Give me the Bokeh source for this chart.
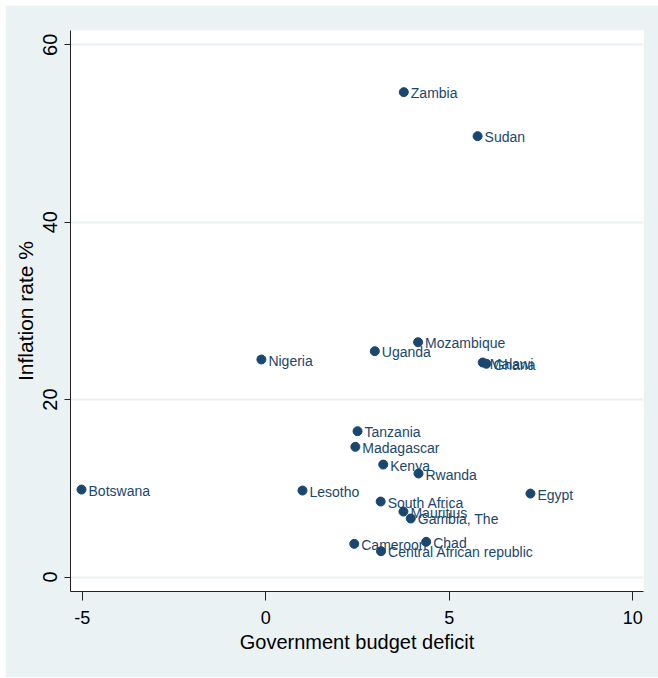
from bokeh.plotting import figure
from bokeh.models import ColumnDataSource, FixedTicker, Range1d
from bokeh.core.properties import value
from bokeh.embed import file_html
from bokeh.resources import INLINE

countries = ["Zambia", "Sudan", "Mozambique", "Nigeria", "Uganda", "Malawi", "Ghana",
             "Tanzania", "Madagascar", "Kenya", "Rwanda", "Botswana", "Lesotho", "Egypt",
             "South Africa", "Mauritius", "Gambia, The", "Chad", "Cameroon",
             "Central African republic"]
deficit = [3.76, 5.77, 4.15, -0.12, 2.97, 5.91, 6.01,
           2.50, 2.44, 3.20, 4.16, -5.02, 1.00, 7.21,
           3.13, 3.75, 3.95, 4.37, 2.41,
           3.14]
inflation = [54.66, 49.70, 26.47, 24.52, 25.46, 24.18, 24.04,
             16.44, 14.68, 12.68, 11.67, 9.86, 9.75, 9.41,
             8.51, 7.38, 6.60, 3.97, 3.74,
             2.91]
x_ticks = [-5, 0, 5, 10]
x_tick_labels = ["-5", "0", "5", "10"]
y_ticks = [0, 20, 40, 60]

NAVY = "#1a476f"
BG = "#eaf2f3"
SANS = "Liberation Sans"

src = ColumnDataSource(dict(x=deficit, y=inflation, name=countries))

p = figure(width=653, height=672, output_backend="svg", toolbar_location=None,
           x_range=Range1d(-5.32, 10.29), y_range=Range1d(-1.63, 61.61),
           min_border_left=65, min_border_right=15, min_border_top=25, min_border_bottom=86)
p.margin = (5, 0, 1, 5)
p.border_fill_color = BG
p.background_fill_color = "white"
p.outline_line_color = None

p.scatter("x", "y", source=src, size=9, fill_color=NAVY, line_color=NAVY)
p.text("x", "y", text="name", source=src, x_offset=7, y_offset=1,
       text_baseline="middle", text_align="left", text_color=NAVY,
       text_font=value(SANS), text_font_size="14px")

p.xgrid.visible = False
p.ygrid.ticker = FixedTicker(ticks=y_ticks)
p.ygrid.grid_line_color = BG
p.ygrid.grid_line_width = 2

p.xaxis.ticker = FixedTicker(ticks=x_ticks)
p.xaxis.major_label_overrides = {t: s for t, s in zip(x_ticks, x_tick_labels)}
p.yaxis.ticker = FixedTicker(ticks=y_ticks)
for ax in (p.xaxis[0], p.yaxis[0]):
    ax.axis_line_color = "#222222"
    ax.major_tick_line_color = "#222222"
    ax.minor_tick_line_color = None
    ax.major_tick_in = 0
    ax.major_label_text_color = "black"
    ax.axis_label_text_color = "black"
    ax.axis_label_text_font_style = "normal"

p.xaxis.major_tick_out = 9
p.xaxis.major_label_text_font = SANS
p.xaxis.major_label_text_font_size = "18px"
p.xaxis.major_label_standoff = 10
p.xaxis.axis_label = "Government budget deficit"
p.xaxis.axis_label_text_font = SANS
p.xaxis.axis_label_text_font_size = "20px"
p.xaxis.axis_label_standoff = 4

p.yaxis.major_tick_out = 6
p.yaxis.major_label_orientation = "vertical"
p.yaxis.major_label_text_font = SANS
p.yaxis.major_label_text_font_size = "20px"
p.yaxis.major_label_standoff = 7
p.yaxis.axis_label = "Inflation rate %"
p.yaxis.axis_label_text_font = SANS
p.yaxis.axis_label_text_font_size = "21px"
p.yaxis.axis_label_standoff = 4

open("out.html", "w").write(file_html(p, INLINE))
